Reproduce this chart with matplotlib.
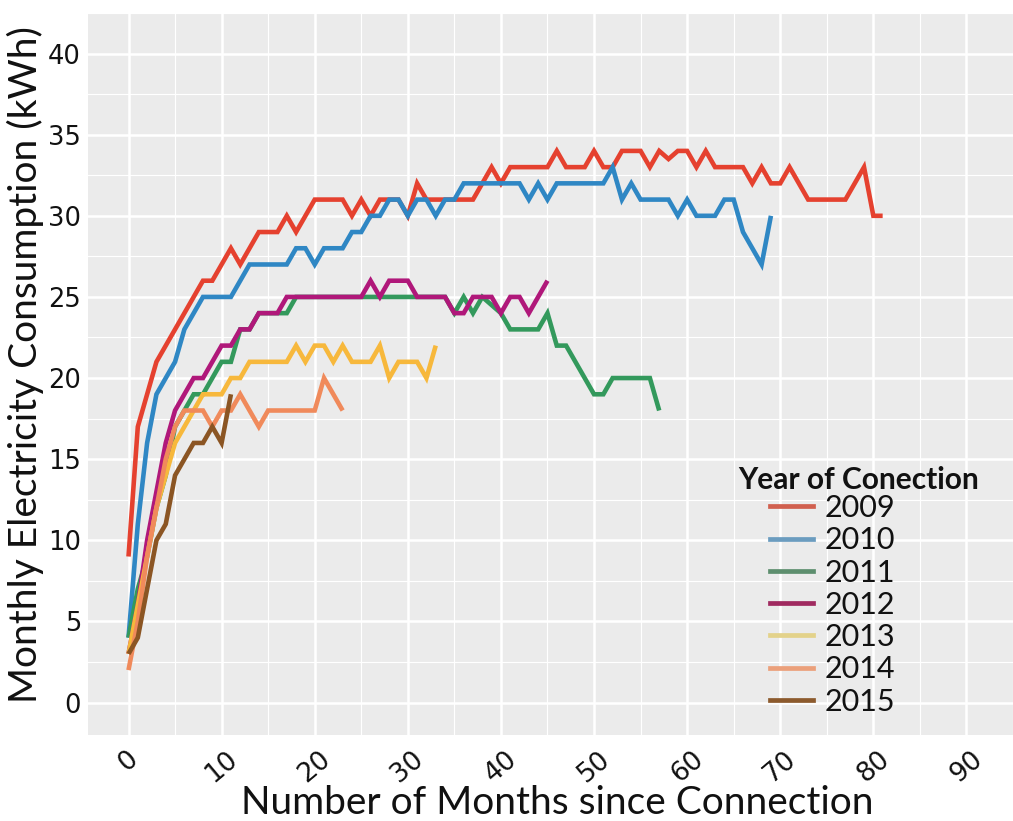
import matplotlib
matplotlib.use("Agg")
import matplotlib.pyplot as plt
from matplotlib.lines import Line2D

# ---------------- data ----------------
years = ["2009", "2010", "2011", "2012", "2013", "2014", "2015"]

v2009 = [9, 17, 19, 21, 22, 23, 24, 25, 26, 26,
         27, 28, 27, 28, 29, 29, 29, 30, 29, 30,
         31, 31, 31, 31, 30, 31, 30, 31, 31, 31,
         30, 32, 31, 31, 31, 31, 31, 31, 32, 33,
         32, 33, 33, 33, 33, 33, 34, 33, 33, 33,
         34, 33, 33, 34, 34, 34, 33, 34, 33.5, 34,
         34, 33, 34, 33, 33, 33, 33, 32, 33, 32,
         32, 33, 32, 31, 31, 31, 31, 31, 32, 33,
         30, 30]
v2010 = [4, 11, 16, 19, 20, 21, 23, 24, 25, 25,
         25, 25, 26, 27, 27, 27, 27, 27, 28, 28,
         27, 28, 28, 28, 29, 29, 30, 30, 31, 31,
         30, 31, 31, 30, 31, 31, 32, 32, 32, 32,
         32, 32, 32, 31, 32, 31, 32, 32, 32, 32,
         32, 32, 33, 31, 32, 31, 31, 31, 31, 30,
         31, 30, 30, 30, 31, 31, 29, 28, 27, 30]
v2011 = [4, 7, 9, 12, 14, 17, 18, 19, 19, 20,
         21, 21, 23, 23, 24, 24, 24, 24, 25, 25,
         25, 25, 25, 25, 25, 25, 25, 25, 25, 25,
         25, 25, 25, 25, 25, 24, 25, 24, 25, 24.5,
         24, 23, 23, 23, 23, 24, 22, 22, 21, 20,
         19, 19, 20, 20, 20, 20, 20, 18]
v2012 = [3, 6, 10, 13, 16, 18, 19, 20, 20, 21,
         22, 22, 23, 23, 24, 24, 24, 25, 25, 25,
         25, 25, 25, 25, 25, 25, 26, 25, 26, 26,
         26, 25, 25, 25, 25, 24, 24, 25, 25, 25,
         24, 25, 25, 24, 25, 26]
v2013 = [3, 6, 9, 12, 14, 16, 17, 18, 19, 19,
         19, 20, 20, 21, 21, 21, 21, 21, 22, 21,
         22, 22, 21, 22, 21, 21, 21, 22, 20, 21,
         21, 21, 20, 22]
v2014 = [2, 5, 9, 12, 15, 17, 18, 18, 18, 17,
         18, 18, 19, 18, 17, 18, 18, 18, 18, 18,
         18, 20, 19, 18]
v2015 = [3, 4, 7, 10, 11, 14, 15, 16, 16, 17, 16, 19]

series = [v2009, v2010, v2011, v2012, v2013, v2014, v2015]

x_ticks = [0, 10, 20, 30, 40, 50, 60, 70, 80, 90]
y_ticks = [0, 5, 10, 15, 20, 25, 30, 35, 40]

line_colors = ["#E5412F", "#2F87C4", "#33995C", "#B0187A", "#F7B83C", "#F08A5B", "#8B5523"]
key_colors = ["#D1604F", "#6B9CBF", "#5D8E6E", "#A02A60", "#E3D28A", "#EBA07B", "#8C5A2D"]

# ---------------- figure ----------------
W, H = 1013, 821
fig = plt.figure(figsize=(W / 100, H / 100), dpi=100)
fig.patch.set_facecolor("white")

left_px, right_px, top_px, bot_px = 88, 1013, 13, 735
ax = fig.add_axes([left_px / W, 1 - bot_px / H, (right_px - left_px) / W, (bot_px - top_px) / H])
ax.set_facecolor("#EBEBEB")
for s in ax.spines.values():
    s.set_visible(False)

ax.set_xlim(-4.35, 91.5)
ax.set_ylim(-2, 42)

ax.set_xticks(x_ticks)
ax.set_xticks([t + 5 for t in x_ticks], minor=True)
ax.set_yticks(y_ticks)
ax.set_yticks([t + 2.5 for t in y_ticks], minor=True)
ax.grid(which="major", color="white", linewidth=1.8)
ax.grid(which="minor", color="white", linewidth=0.8)
ax.set_axisbelow(True)

ax.tick_params(which="both", length=0)
ax.tick_params(axis="y", labelsize=18.5, pad=5, labelcolor="#111111")
ax.tick_params(axis="x", labelsize=19, pad=8, labelcolor="#111111")
ax.set_xticklabels([str(t) for t in x_ticks], rotation=40, ha="center", va="top")
for lab in ax.get_yticklabels() + ax.get_xticklabels():
    lab.set_family("DejaVu Sans")

for vals, c in zip(series, line_colors):
    ax.plot(range(len(vals)), vals, color=c, linewidth=3.3, solid_joinstyle="miter",
            solid_capstyle="butt")

# axis titles
fig.text(557 / W, 1 - 803 / H, "Number of Months since Connection", ha="center", va="center",
         fontsize=28, family="Lato", color="#111111")
fig.text(25 / W, 1 - 365 / H, "Monthly Electricity Consumption (kWh)", ha="center", va="center",
         rotation=90, fontsize=28, family="Lato", color="#111111")

# legend
fig.text(738 / W, 1 - 480 / H, "Year of Conection", ha="left", va="center",
         fontsize=21.5, family="Lato", fontweight="bold", color="#111111")
handles = [Line2D([], [], color=c, linewidth=3.4) for c in key_colors]
leg = ax.legend(handles, years, loc="upper left", bbox_to_anchor=(770 / W, 1 - 494 / H),
                bbox_transform=fig.transFigure, frameon=False, borderpad=0, borderaxespad=0,
                handlelength=1.4, handletextpad=0.4, labelspacing=0.14,
                prop={"family": "Lato", "size": 22})
for t in leg.get_texts():
    t.set_color("#111111")

fig.savefig("out.png", dpi=100)
